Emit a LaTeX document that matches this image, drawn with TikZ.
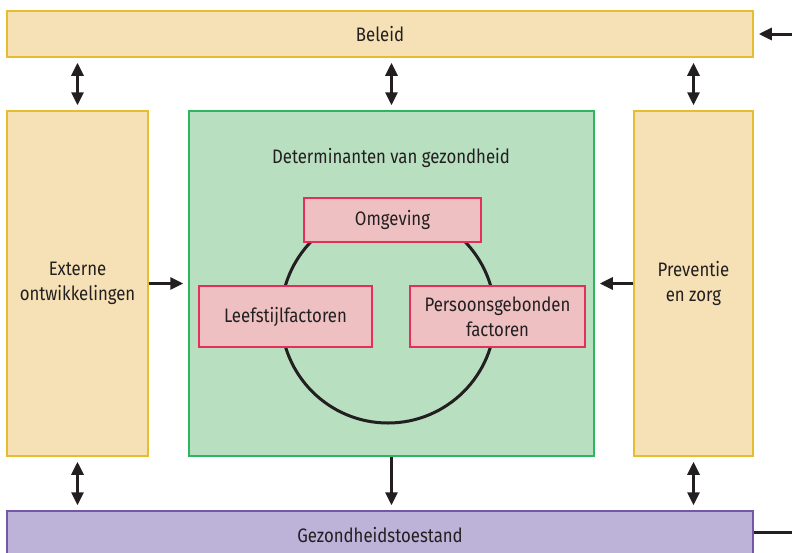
\documentclass[tikz,border=0pt]{standalone}
\usepackage{fontspec}
\setmainfont{Fira Sans}[FakeStretch=0.86]
\usepackage{tikz}
\usetikzlibrary{arrows.meta}

\definecolor{geelvul}{HTML}{F5E1B5}
\definecolor{geelrand}{HTML}{E5BD2E}
\definecolor{groenvul}{HTML}{B7DFC0}
\definecolor{groenrand}{HTML}{2DB560}
\definecolor{paarsvul}{HTML}{BDB3D9}
\definecolor{paarsrand}{HTML}{7457A8}
\definecolor{rozevul}{HTML}{EEC0C2}
\definecolor{rozerand}{HTML}{E52E5A}
\definecolor{pijl}{HTML}{231F20}

\tikzset{
  geelblok/.style={draw=geelrand, fill=geelvul, line width=1.5pt, align=center, inner sep=0pt},
  groenblok/.style={draw=groenrand, fill=groenvul, line width=1.5pt, inner sep=0pt},
  paarsblok/.style={draw=paarsrand, fill=paarsvul, line width=1.5pt, inner sep=0pt},
  roosblok/.style={draw=rozerand, fill=rozevul, line width=1.5pt, align=center, inner sep=0pt},
  pijlen/.style={draw=pijl, line width=3pt, shorten <=5pt, shorten >=5pt},
  punt/.tip={Triangle[length=13pt, width=12pt]}
}

\begin{document}
\begin{tikzpicture}[x=1pt, y=-1pt, font=\fontsize{19.5}{25}\selectfont, text=pijl]
\useasboundingbox (0,0) rectangle (792,552);
% blokken
\node[geelblok, minimum width=746pt, minimum height=46pt] (beleid) at (380,34) {Beleid};
\node[geelblok, minimum width=141pt, minimum height=345pt] (extern) at (77.5,283.5) {Externe\\ontwikkelingen};
\node[groenblok, minimum width=405pt, minimum height=345pt] (determ) at (391.5,283.5) {};
\node[geelblok, minimum width=119pt, minimum height=345pt] (prev) at (693.5,283.5) {Preventie\\en zorg};
\node[paarsblok, minimum width=746pt, minimum height=48pt] (gezond) at (380,535) {};
\node (gezondtxt) at (380,535) {Gezondheidstoestand};
\node (determtxt) at (391,158) {Determinanten van gezondheid};
% cirkel met determinanten
\draw[pijl, line width=3pt] (388,316) circle (107pt);
\node[roosblok, minimum width=177pt, minimum height=44pt] (omg) at (392.5,220) {Omgeving};
\node[roosblok, minimum width=173pt, minimum height=61pt] (leef) at (285.5,316.5) {Leefstijlfactoren};
\node[roosblok, minimum width=175pt, minimum height=61pt] (pers) at (497.5,316.5) {Persoonsgebonden\\factoren};
% pijlen
\coordinate (inR) at (796,34);
\coordinate (uitR) at (796,532);
\draw[pijlen, punt-punt] (beleid.south -| extern) -- (extern.north);
\draw[pijlen, punt-punt] (beleid.south -| determ) -- (determ.north);
\draw[pijlen, punt-punt] (beleid.south -| prev) -- (prev.north);
\draw[pijlen, -punt, shorten <=0pt] (inR) -- (beleid.east);
\draw[pijlen, -punt, shorten <=0pt] (extern.east) -- (determ.west);
\draw[pijlen, -punt, shorten <=0pt] (prev.west) -- (determ.east);
\draw[pijlen, punt-punt] (extern.south) -- (gezond.north -| extern);
\draw[pijlen, -punt, shorten <=0pt] (determ.south) -- (gezond.north -| determ);
\draw[pijlen, punt-punt] (prev.south) -- (gezond.north -| prev);
\draw[pijl, line width=3pt] (gezond.east |- uitR) -- (uitR);
\end{tikzpicture}
\end{document}
